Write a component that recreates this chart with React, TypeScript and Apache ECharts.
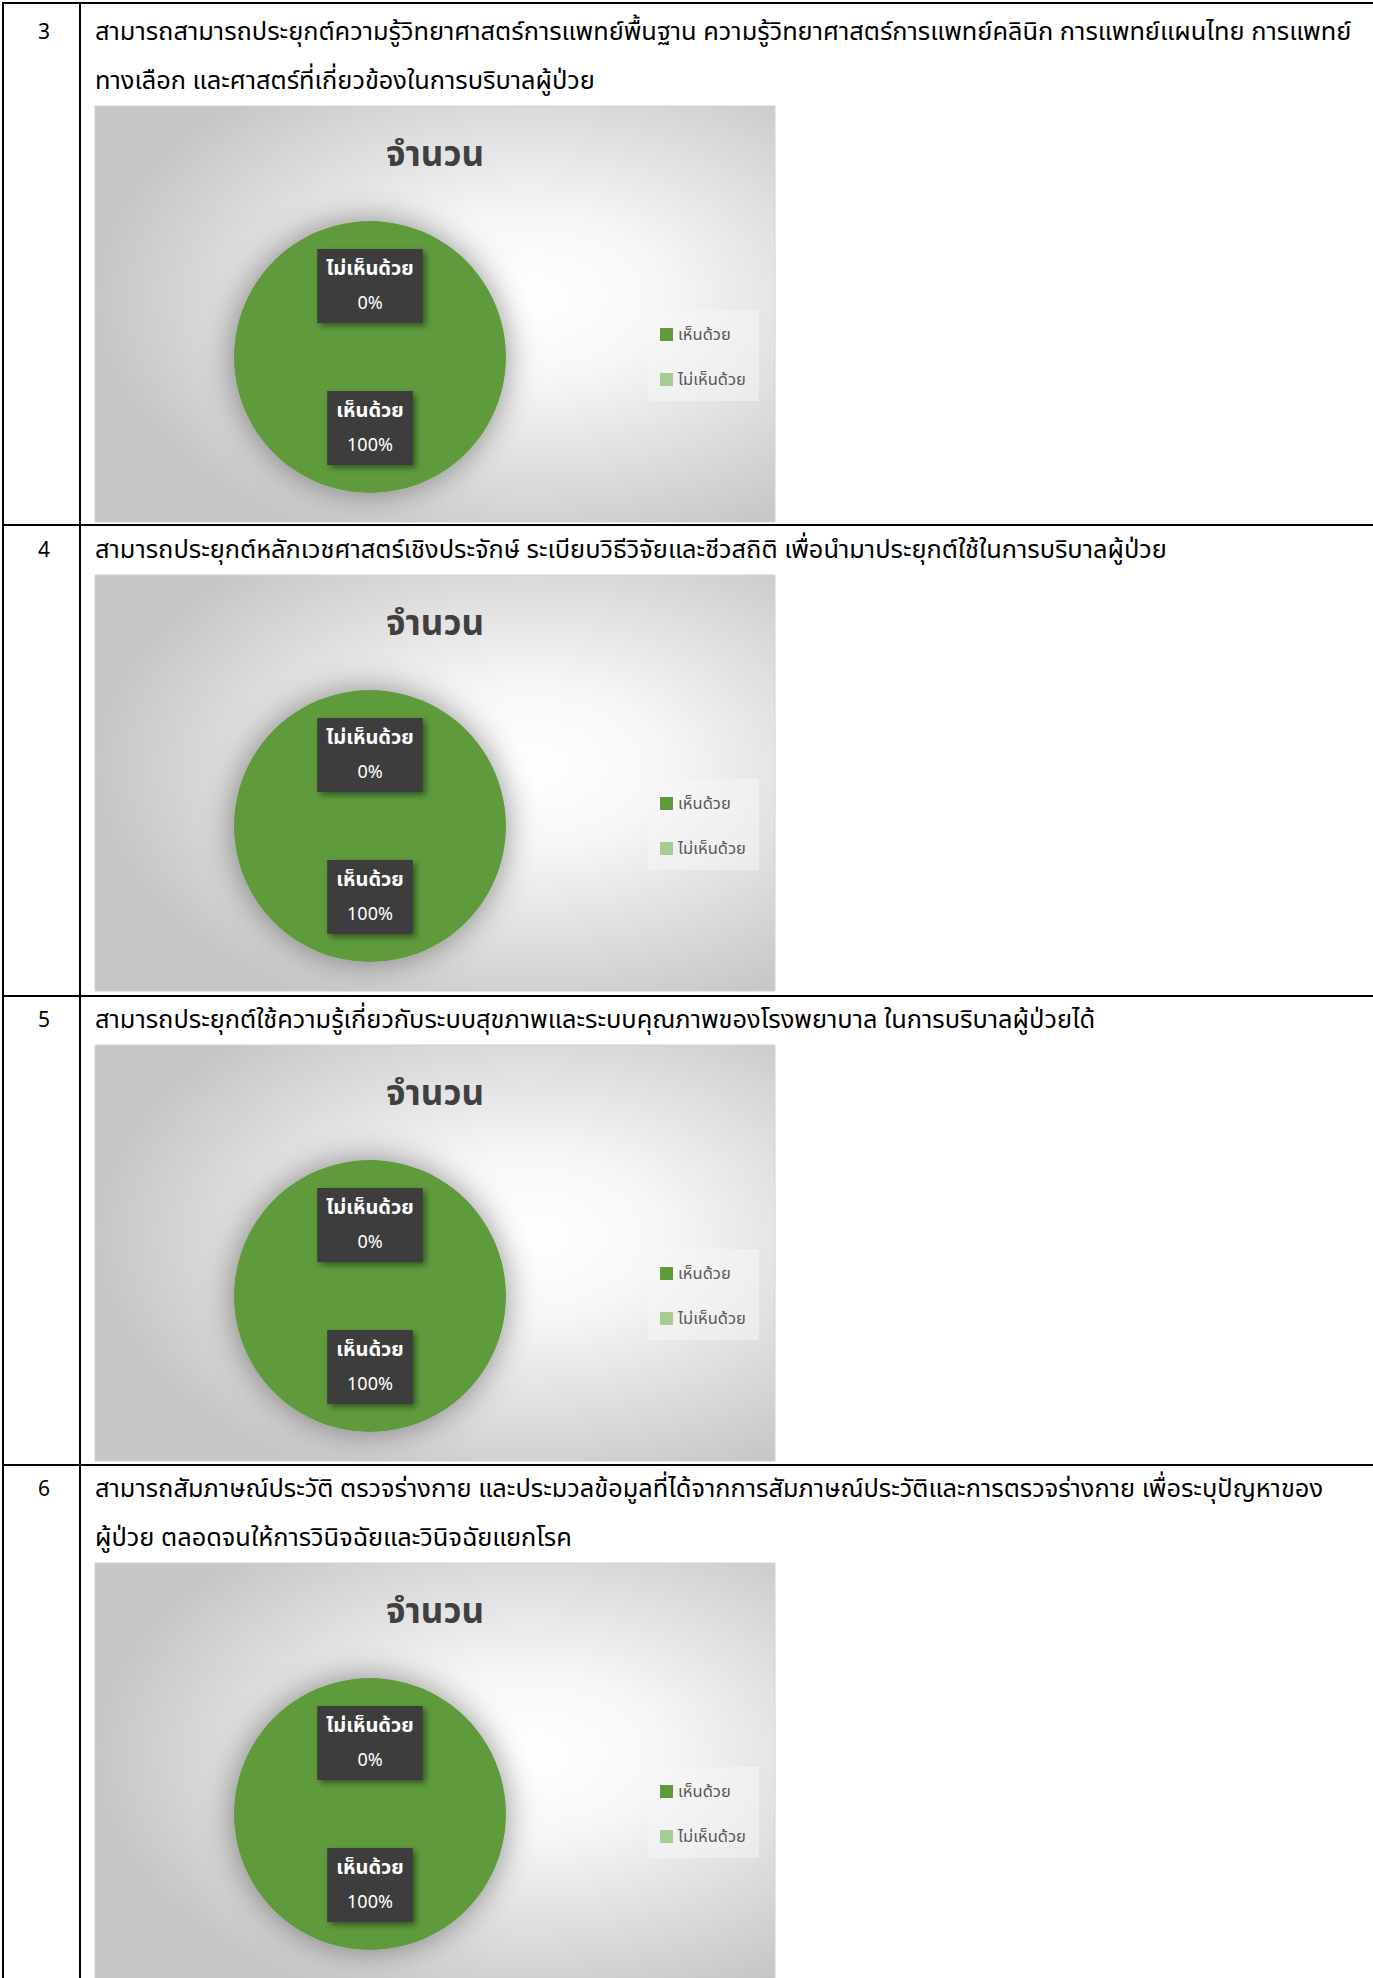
import React, { useEffect, useRef } from "react";
import * as echarts from "echarts";

const categories = ["เห็นด้วย", "ไม่เห็นด้วย"];
const itemNumbers = ["3", "4", "5", "6"];
const itemTexts = [
  [
    "สามารถสามารถประยุกต์ความรู้วิทยาศาสตร์การแพทย์พื้นฐาน ความรู้วิทยาศาสตร์การแพทย์คลินิก การแพทย์แผนไทย การแพทย์",
    "ทางเลือก และศาสตร์ที่เกี่ยวข้องในการบริบาลผู้ป่วย",
  ],
  ["สามารถประยุกต์หลักเวชศาสตร์เชิงประจักษ์ ระเบียบวิธีวิจัยและชีวสถิติ เพื่อนำมาประยุกต์ใช้ในการบริบาลผู้ป่วย"],
  ["สามารถประยุกต์ใช้ความรู้เกี่ยวกับระบบสุขภาพและระบบคุณภาพของโรงพยาบาล ในการบริบาลผู้ป่วยได้"],
  [
    "สามารถสัมภาษณ์ประวัติ ตรวจร่างกาย และประมวลข้อมูลที่ได้จากการสัมภาษณ์ประวัติและการตรวจร่างกาย เพื่อระบุปัญหาของ",
    "ผู้ป่วย ตลอดจนให้การวินิจฉัยและวินิจฉัยแยกโรค",
  ],
];
const chartTitle = "จำนวน";
const agreeValues = [100, 100, 100, 100];
const disagreeValues = [0, 0, 0, 0];

const FONT = "'Noto Sans Thai', 'Leelawadee UI', Tahoma, 'DejaVu Sans', sans-serif";
const W = 1373;
const H = 1978;
const CHART_W = 680;
const CHART_H = 416;
const CHART_X = 95;
const chartTops = [106, 575, 1045, 1563];
const textTops = [32, 550, 1020, 1489];
const rowLines = [525, 996, 1465];
const COLORS = ["#5f9b3d", "#a7cb92"];

export default function App() {
  const ref = useRef<HTMLDivElement>(null);
  useEffect(() => {
    if (!ref.current) return;
    const chart = echarts.init(ref.current, null, { renderer: "svg" });
    const graphics: any[] = [];
    chartTops.forEach((t) => {
      graphics.push({
        type: "rect",
        z: -10,
        shape: { x: CHART_X, y: t, width: CHART_W, height: CHART_H },
        style: {
          fill: new echarts.graphic.RadialGradient(0.64, 0.46, 0.64, [
            { offset: 0, color: "#ffffff" },
            { offset: 0.3, color: "#f7f7f7" },
            { offset: 1, color: "#c6c6c6" },
          ]),
          stroke: "#d2d2d2",
          lineWidth: 1,
        },
        silent: true,
      });
      graphics.push({
        type: "text",
        x: CHART_X + CHART_W / 2,
        y: t + 49,
        style: {
          text: chartTitle,
          font: `bold 35px ${FONT}`,
          fill: "#404040",
          textAlign: "center",
          textVerticalAlign: "middle",
        },
      });
      graphics.push({
        type: "rect",
        z: -5,
        shape: { x: CHART_X + 553, y: t + 204, width: 111, height: 91 },
        style: { fill: "rgba(245,245,245,0.55)" },
        silent: true,
      });
    });
    const line = (x1: number, y1: number, x2: number, y2: number) =>
      graphics.push({
        type: "line",
        shape: { x1, y1, x2, y2 },
        style: { stroke: "#000", lineWidth: 2 },
        silent: true,
      });
    line(2, 3, W, 3);
    rowLines.forEach((y) => line(2, y, W, y));
    line(3, 2, 3, H);
    line(80, 2, 80, H);
    itemNumbers.forEach((n, i) => {
      graphics.push({
        type: "text",
        x: 44,
        y: textTops[i],
        style: { text: n, font: `21px ${FONT}`, fill: "#000", textAlign: "center", textVerticalAlign: "middle" },
      });
      itemTexts[i].forEach((s, j) => {
        graphics.push({
          type: "text",
          x: 95,
          y: textTops[i] + j * 49,
          style: { text: s, font: `25.4px ${FONT}`, fill: "#000", textAlign: "left", textVerticalAlign: "middle" },
        });
      });
    });

    const series = chartTops.map((t, i) => ({
      type: "pie",
      center: [CHART_X + 275, t + 251],
      radius: 136,
      startAngle: 90,
      clockwise: true,
      avoidLabelOverlap: false,
      minShowLabelAngle: 0,
      itemStyle: {
        shadowBlur: 32,
        shadowColor: "rgba(0,0,0,0.42)",
      },
      emphasis: { disabled: true },
      label: {
        show: true,
        position: "inside",
        formatter: "{n|{b}}\n{p|{d}%}",
        backgroundColor: "#3c3c3c",
        padding: [3, 9],
        shadowBlur: 6,
        shadowOffsetX: 3,
        shadowOffsetY: 3,
        shadowColor: "rgba(0,0,0,0.45)",
        rich: {
          n: { fontSize: 20, fontWeight: "bold", color: "#ffffff", lineHeight: 34, fontFamily: FONT, align: "center" },
          p: { fontSize: 18, color: "#ffffff", lineHeight: 34, fontFamily: FONT, align: "center" },
        },
      },
      labelLine: { show: false },
      data: [
        { name: categories[0], value: agreeValues[i], itemStyle: { color: COLORS[0] } },
        { name: categories[1], value: disagreeValues[i], itemStyle: { color: COLORS[1] } },
      ],
    }));

    const legends = chartTops.map((t) => ({
      orient: "vertical",
      left: CHART_X + 560,
      top: t + 215,
      itemWidth: 13,
      itemHeight: 13,
      itemGap: 28,
      icon: "rect",
      selectedMode: false,
      data: categories,
      textStyle: { fontSize: 16.5, color: "#595959", fontFamily: FONT },
    }));

    chart.setOption({
      animation: false,
      backgroundColor: "#ffffff",
      legend: legends,
      series,
      graphic: graphics,
    });
    return () => chart.dispose();
  }, []);
  return (
    <div
      ref={ref}
      style={{ position: "absolute", left: 0, top: 0, width: W, height: H, overflow: "hidden" }}
    />
  );
}
